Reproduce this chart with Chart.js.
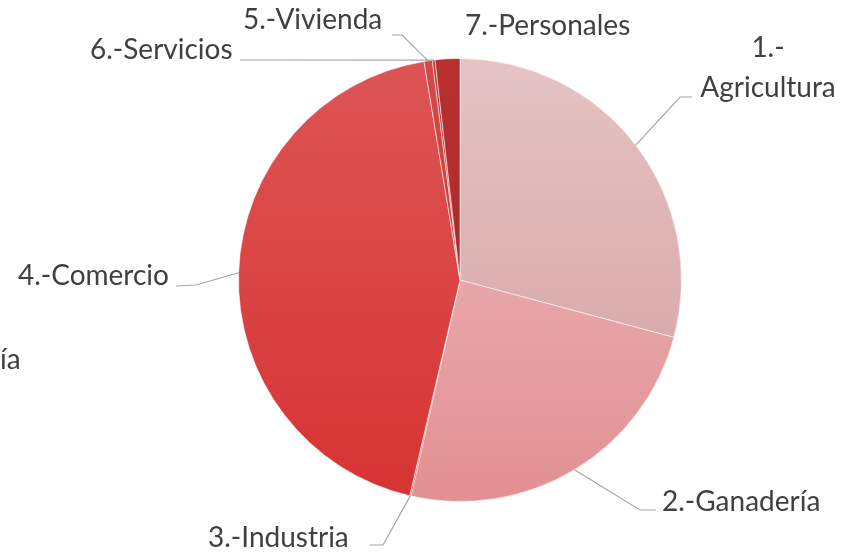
<!DOCTYPE html>
<html>
<head>
<meta charset="utf-8">
<script src="https://cdn.jsdelivr.net/npm/chart.js@4.4.0/dist/chart.umd.min.js"></script>
<style>
  html, body { margin: 0; padding: 0; background: #fff; }
  #wrap { width: 856px; height: 554px; position: relative; }
</style>
</head>
<body>
<div id="wrap"><canvas id="pie"></canvas></div>
<script>
// Sectores (orden de la hoja)
const categories = ['1.-Agricultura', '2.-Ganadería', '3.-Industria', '4.-Comercio', '5.-Vivienda', '6.-Servicios', '7.-Personales'];
const shares = [29.2, 24.4, 0.1, 43.8, 0.6, 0.2, 1.8];
const sliceColors = ['#dcb0b1', '#e8a6a8', '#d84a4a', '#da4444', '#cf3a3a', '#c03030', '#ac2c2c'];

// label text lines and where they sit (x, y of first line centre), plus elbow point
const labelLayout = [
  { lines: ['1.-', 'Agricultura'], x: 768, y: 48, align: 'center', elbow: [680, 97], end: [692, 97] },
  { lines: ['2.-Ganadería'], x: 662, y: 502, align: 'left', elbow: [640, 510], end: [656, 510] },
  { lines: ['3.-Industria'], x: 208, y: 538, align: 'left', elbow: [383, 545], end: [370, 545] },
  { lines: ['4.-Comercio'], x: 18, y: 276, align: 'left', elbow: [196, 285], end: [176, 286] },
  { lines: ['5.-Vivienda'], x: 243, y: 20, align: 'left', elbow: [402, 35], end: [392, 35] },
  { lines: ['6.-Servicios'], x: 90, y: 50, align: 'left', elbow: [242, 60], end: [240, 60] },
  { lines: ['7.-Personales'], x: 465, y: 26, align: 'left', elbow: null, end: null }
];

const leaderLabels = {
  id: 'leaderLabels',
  afterDraw(chart) {
    const ctx = chart.ctx;
    const meta = chart.getDatasetMeta(0);
    ctx.save();
    ctx.font = '28px Lato, "Open Sans", sans-serif';
    ctx.fillStyle = '#404040';
    ctx.textBaseline = 'middle';
    labelLayout.forEach((lab, i) => {
      const arc = meta.data[i];
      if (lab.elbow) {
        const mid = (arc.startAngle + arc.endAngle) / 2;
        const ax = arc.x + Math.cos(mid) * arc.outerRadius;
        const ay = arc.y + Math.sin(mid) * arc.outerRadius;
        ctx.strokeStyle = '#a6a6a6';
        ctx.lineWidth = 1.2;
        ctx.beginPath();
        ctx.moveTo(lab.end[0], lab.end[1]);
        ctx.lineTo(lab.elbow[0], lab.elbow[1]);
        ctx.lineTo(ax, ay);
        ctx.stroke();
      }
      ctx.textAlign = lab.align;
      lab.lines.forEach((t, k) => ctx.fillText(t, lab.x, lab.y + k * 40));
    });
    // cut-off label at the left edge
    ctx.textAlign = 'left';
    ctx.fillText('ía', 0, 360);
    ctx.restore();
  }
};

function shadedFill(context) {
  const chart = context.chart;
  const i = context.dataIndex;
  const base = sliceColors[i];
  const area = chart.chartArea;
  if (!area) return base;
  const g = chart.ctx.createLinearGradient(0, area.top, 0, area.bottom);
  g.addColorStop(0, Chart.helpers.color(base).lighten(0.07).hexString());
  g.addColorStop(1, Chart.helpers.color(base).darken(0.07).hexString());
  return g;
}

new Chart(document.getElementById('pie'), {
  type: 'pie',
  data: {
    labels: categories,
    datasets: [{
      data: shares,
      backgroundColor: shadedFill,
      borderColor: 'rgba(255,255,255,0.55)',
      borderWidth: 1
    }]
  },
  options: {
    responsive: true,
    maintainAspectRatio: false,
    animation: false,
    layout: { padding: { left: 238, right: 174, top: 58, bottom: 52 } },
    plugins: {
      legend: { display: false },
      tooltip: { enabled: false }
    }
  },
  plugins: [leaderLabels]
});
</script>
</body>
</html>
